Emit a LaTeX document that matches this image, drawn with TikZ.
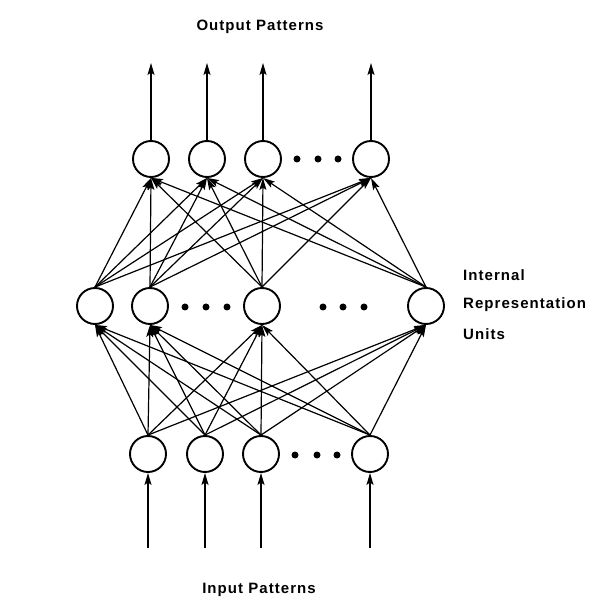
\documentclass[tikz,border=0pt]{standalone}
\usepackage{fontspec}
\setmainfont{Liberation Sans}[LetterSpace=7]
\usetikzlibrary{arrows.meta}
\begin{document}
\begin{tikzpicture}[x=1pt,y=-1pt,
  unit/.style={circle,draw,line width=1.9pt,minimum size=36pt,inner sep=0pt},
  dotmark/.style={circle,fill,minimum size=7pt,inner sep=0pt},
  conn/.style={line width=1.2pt,-{Stealth[length=12pt,width=7pt,inset=2.5pt]}},
  lbl/.style={font=\fontsize{15}{17}\selectfont\bfseries,inner sep=0pt}]
\useasboundingbox (0,0) rectangle (613,609);
% output layer
\node[unit] (o1) at (151,159) {};
\node[unit] (o2) at (207,159) {};
\node[unit] (o3) at (263,159) {};
\node[unit] (o4) at (371,159) {};
\node[dotmark] (od1) at (297,159) {};
\node[dotmark] (od2) at (318,159) {};
\node[dotmark] (od3) at (338,159) {};
% hidden layer
\node[unit] (h1) at (95,306) {};
\node[unit] (h2) at (150,306) {};
\node[unit] (h3) at (262,306) {};
\node[unit] (h4) at (426,306) {};
\node[dotmark] (hd1) at (185,307) {};
\node[dotmark] (hd2) at (206,307) {};
\node[dotmark] (hd3) at (227,307) {};
\node[dotmark] (hd4) at (323,307) {};
\node[dotmark] (hd5) at (343,307) {};
\node[dotmark] (hd6) at (364,307) {};
% input layer
\node[unit] (i1) at (148,454) {};
\node[unit] (i2) at (205,454) {};
\node[unit] (i3) at (261,454) {};
\node[unit] (i4) at (370,454) {};
\node[dotmark] (id1) at (295,455) {};
\node[dotmark] (id2) at (317,455) {};
\node[dotmark] (id3) at (337,455) {};
% output arrows
\foreach \n/\x in {o1/151,o2/207,o3/263,o4/371}{
  \coordinate (t\n) at (\x,63);
  \draw[conn] (\n.north) -- (t\n);
}
% input arrows
\foreach \n/\x in {i1/148,i2/205,i3/261,i4/370}{
  \coordinate (b\n) at (\x,548);
  \draw[conn] (b\n) -- (\n.south);
}
% hidden -> output
\foreach \h in {h1,h2,h3,h4}{
  \foreach \o in {o1,o2,o3,o4}{
    \draw[conn] (\h.north) -- (\o.south);
  }
}
% input -> hidden
\foreach \i in {i1,i2,i3,i4}{
  \foreach \h in {h1,h2,h3,h4}{
    \draw[conn] (\i.north) -- (\h.south);
  }
}
% labels
\node[lbl] (outlbl) at (260,27) {Output Patterns};
\node[lbl] (inlbl) at (259,590) {Input Patterns};
\node[lbl,anchor=west] (l1) at (463,275) {Internal};
\node[lbl,anchor=west] (l2) at (463,305) {Representation};
\node[lbl,anchor=west] (l3) at (463,334) {Units};
\end{tikzpicture}
\end{document}
